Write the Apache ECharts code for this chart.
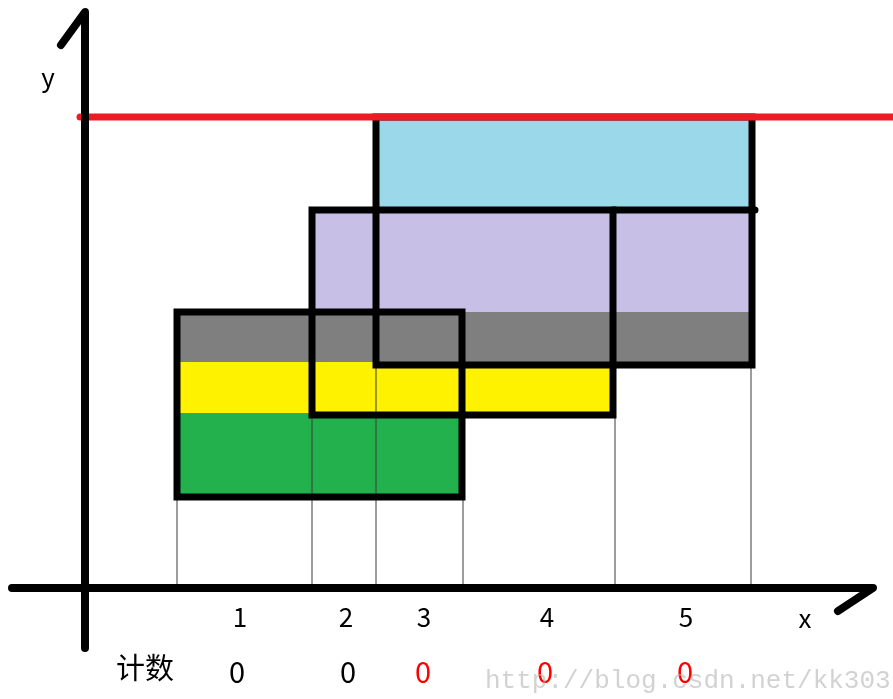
<!DOCTYPE html>
<html><head><meta charset="utf-8">
<script src="https://cdn.jsdelivr.net/npm/echarts@6/dist/echarts.min.js"></script>
<style>html,body{margin:0;padding:0;background:#fff}#c{width:893px;height:699px}</style>
</head><body><div id="c"></div>
<script>
// Data coordinates: origin at the crossing of the drawn axes.
// Coloured bands (x from, x to, y bottom, y top)
const bandNames = ['blue', 'lavender', 'gray', 'yellow', 'green'];
const bandX0 = [291, 227, 92, 92, 92];
const bandX1 = [667, 667, 667, 528, 377];
const bandYBottom = [378, 276, 226, 175, 91];
const bandYTop = [471, 378, 276, 226, 175];
const bandColors = ['#9bd9ea', '#c8bfe7', '#7f7f7f', '#fff200', '#22b14c'];

// Black rectangles (x from, x to, y bottom, y top)
const rectX0 = [92, 227, 291];
const rectX1 = [377, 528, 667];
const rectYBottom = [91, 173, 223];
const rectYTop = [276, 378, 471];
// extra stroke: top edge of the 2nd rectangle runs on to the right
const extraSegX = [528, 670];
const extraSegY = [378, 378];

// Red limit line
const redLineX = [-5, 808];
const redLineY = 471;

// Thin guide lines from rectangle edges down to x-axis (x, y top)
const guideX = [92, 227, 291, 378, 530, 666];
const guideTop = [91, 175, 223, 91, 173, 223];

// Axes
const xAxisFrom = -73, xAxisTo = 788;
const yAxisFrom = -60, yAxisTo = 576;
const xArrowTail = [753, -23];
const yArrowTail = [-24, 543];

// Slot labels and counts
const slotLabels = ['1', '2', '3', '4', '5'];
const slotX = [155, 261, 339, 462, 601];
const slotLabelY = -29;
const counts = [0, 0, 0, 0, 0];
const countX = [152, 263, 338, 460, 600];
const countY = -84;
const countHighlighted = [false, false, true, true, true];
const countTitle = '计数';
const countTitlePos = [60, -80];
const xName = 'x', xNamePos = [720, -30];
const yName = 'y', yNamePos = [-37, 511];
const watermark = 'http://blog.csdn.net/kk303';
const watermarkPos = [400, -93];

const chart = echarts.init(document.getElementById('c'), null, {renderer: 'canvas'});

function seg(api, a, b, style) {
  const p = api.coord(a), q = api.coord(b);
  return {type: 'line', shape: {x1: p[0], y1: p[1], x2: q[0], y2: q[1]}, style: style, silent: true};
}

const F = '"Noto Sans CJK SC", "Noto Sans", sans-serif';

const option = {
  animation: false,
  grid: {left: 0, right: 0, top: 0, bottom: 0},
  xAxis: {type: 'value', min: -85, max: 808, show: false},
  yAxis: {type: 'value', min: -111, max: 588, show: false},
  series: [
    {
      type: 'custom', name: 'bands', z: 1,
      data: bandNames.map((n, i) => [bandX0[i], bandX1[i], bandYBottom[i], bandYTop[i]]),
      renderItem: function (params, api) {
        const i = params.dataIndex;
        const p = api.coord([api.value(0), api.value(3)]);
        const q = api.coord([api.value(1), api.value(2)]);
        return {type: 'rect', shape: {x: p[0], y: p[1], width: q[0] - p[0], height: q[1] - p[1]},
          style: {fill: bandColors[i]}};
      }
    },
    {
      type: 'custom', name: 'guides', z: 2,
      data: guideX.map((x, i) => [x, guideTop[i]]),
      renderItem: function (params, api) {
        return seg(api, [api.value(0), api.value(1)], [api.value(0), 0], {stroke: '#3a3a3a', lineWidth: 1});
      }
    },
    {
      type: 'custom', name: 'rects', z: 3,
      data: rectX0.map((x, i) => [x, rectX1[i], rectYBottom[i], rectYTop[i]]),
      renderItem: function (params, api) {
        const x0 = api.value(0), x1 = api.value(1), y0 = api.value(2), y1 = api.value(3);
        const st = {stroke: '#000', lineWidth: 7, lineCap: 'round', fill: null};
        const a = api.coord([x0, y1]), b = api.coord([x1, y1]), c = api.coord([x1, y0]), d = api.coord([x0, y0]);
        return {type: 'polygon', shape: {points: [a, b, c, d]}, style: Object.assign({lineJoin: 'miter'}, st)};
      }
    },
    {
      type: 'custom', name: 'extra', z: 3,
      data: [[extraSegX[0], extraSegY[0], extraSegX[1], extraSegY[1]]],
      renderItem: function (params, api) {
        return seg(api, [api.value(0), api.value(1)], [api.value(2), api.value(3)], {stroke: '#000', lineWidth: 7, lineCap: 'round'});
      }
    },
    {
      type: 'custom', name: 'redLine', z: 4,
      data: [[redLineX[0], redLineX[1], redLineY]],
      renderItem: function (params, api) {
        return seg(api, [api.value(0), api.value(2)], [api.value(1), api.value(2)], {stroke: '#ed1c24', lineWidth: 7, lineCap: 'round'});
      }
    },
    {
      type: 'custom', name: 'axes', z: 5,
      data: [[0]],
      renderItem: function (params, api) {
        const st = {stroke: '#000', lineWidth: 8, lineCap: 'round', lineJoin: 'round'};
        const xa = api.coord([xAxisFrom, 0]), xb = api.coord([xAxisTo, 0]), xc = api.coord(xArrowTail);
        const ya = api.coord([0, yAxisFrom]), yb = api.coord([0, yAxisTo]), yc = api.coord(yArrowTail);
        return {type: 'group', children: [
          {type: 'polyline', shape: {points: [xa, xb, xc]}, style: Object.assign({fill: null}, st)},
          {type: 'polyline', shape: {points: [ya, yb, yc]}, style: Object.assign({fill: null}, st)}
        ]};
      }
    },
    {
      type: 'custom', name: 'slotLabels', z: 6,
      data: slotLabels.map((s, i) => [slotX[i], slotLabelY, s]),
      renderItem: function (params, api) {
        const p = api.coord([api.value(0), api.value(1)]);
        return {type: 'text', x: p[0], y: p[1], style: {text: slotLabels[params.dataIndex], fill: '#000',
          font: '26px ' + F, align: 'center', verticalAlign: 'middle'}};
      }
    },
    {
      type: 'custom', name: 'counts', z: 6,
      data: counts.map((c, i) => [countX[i], countY, c]),
      renderItem: function (params, api) {
        const i = params.dataIndex;
        const p = api.coord([api.value(0), api.value(1)]);
        return {type: 'text', x: p[0], y: p[1], style: {text: String(counts[i]), fill: countHighlighted[i] ? '#ff0000' : '#000',
          font: '29px ' + F, align: 'center', verticalAlign: 'middle'}};
      }
    },
    {
      type: 'custom', name: 'names', z: 6,
      data: [[countTitlePos[0], countTitlePos[1]], [xNamePos[0], xNamePos[1]], [yNamePos[0], yNamePos[1]]],
      renderItem: function (params, api) {
        const texts = [countTitle, xName, yName];
        const sizes = [29, 26, 26];
        const i = params.dataIndex;
        const p = api.coord([api.value(0), api.value(1)]);
        return {type: 'text', x: p[0], y: p[1], style: {text: texts[i], fill: '#000',
          font: sizes[i] + 'px ' + F, align: 'center', verticalAlign: 'middle'}};
      }
    },
    {
      type: 'custom', name: 'watermark', z: 7,
      data: [[watermarkPos[0], watermarkPos[1]]],
      renderItem: function (params, api) {
        const p = api.coord([api.value(0), api.value(1)]);
        return {type: 'text', x: p[0], y: p[1], style: {text: watermark, fill: 'rgba(180,180,180,0.6)',
          font: '26px "Liberation Mono", "DejaVu Sans Mono", monospace', align: 'left', verticalAlign: 'middle'}};
      }
    }
  ]
};
chart.setOption(option);
</script>
</body></html>
